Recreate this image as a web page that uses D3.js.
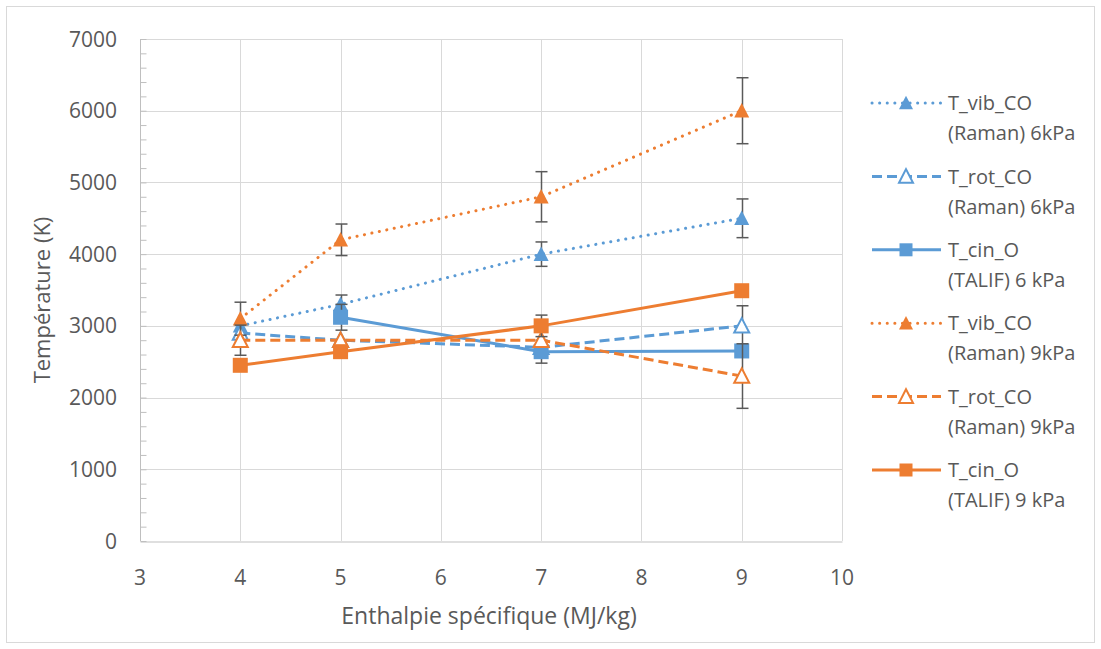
<!DOCTYPE html>
<html><head><meta charset="utf-8">
<script src="https://cdn.jsdelivr.net/npm/d3@7"></script>
<style>body{margin:0;background:#fff}svg{display:block}text{font-family:"Open Sans",sans-serif;fill:#595959}</style>
</head><body><svg id="c" width="1101" height="649"></svg>
<script>
const xValues = [4, 5, 7, 9];
const vib6 = [3000, 3300, 4000, 4500];
const rot6 = [2900, 2800, 2700, 3000];
const cin6 = [null, 3120, 2640, 2650];
const vib9 = [3100, 4200, 4800, 6000];
const rot9 = [2800, 2800, 2800, 2300];
const cin9 = [2450, 2640, 3000, 3490];
const errVib6 = [0, 130, 170, 270];
const errRot6 = [0, 0, 0, 280];
const errCin6 = [0, 180, 160, 0];
const errVib9 = [230, 220, 350, 460];
const errRot9 = [210, 0, 0, 450];
const errCin9 = [0, 0, 150, 0];
const xTicks = [3,4,5,6,7,8,9,10];
const yTicks = [0,1000,2000,3000,4000,5000,6000,7000];
const names = [["T_vib_CO","(Raman) 6kPa"],["T_rot_CO","(Raman) 6kPa"],["T_cin_O","(TALIF) 6 kPa"],["T_vib_CO","(Raman) 9kPa"],["T_rot_CO","(Raman) 9kPa"],["T_cin_O","(TALIF) 9 kPa"]];

const BLUE="#5B9BD5", ORANGE="#ED7D31";
const series = [
 {v:vib6,e:errVib6,c:BLUE,dash:"dot",m:"tri"},
 {v:rot6,e:errRot6,c:BLUE,dash:"dash",m:"tri-open"},
 {v:cin6,e:errCin6,c:BLUE,dash:"solid",m:"sq"},
 {v:vib9,e:errVib9,c:ORANGE,dash:"dot",m:"tri"},
 {v:rot9,e:errRot9,c:ORANGE,dash:"dash",m:"tri-open"},
 {v:cin9,e:errCin9,c:ORANGE,dash:"solid",m:"sq"}
];
series.forEach((s,i)=>s.name=names[i]);

const svg=d3.select("#c");
svg.append("rect").attr("x",6.5).attr("y",6.5).attr("width",1088).attr("height",636).attr("fill","#fff").attr("stroke","#D9D9D9");

const L=140,R=842,T=39,B=541;
const x=d3.scaleLinear().domain([3,10]).range([L,R]);
const y=d3.scaleLinear().domain([0,7000]).range([B,T]);

svg.append("g").selectAll("line").data(yTicks.filter(d=>d>0)).join("line")
 .attr("x1",L).attr("x2",R).attr("y1",d=>Math.round(y(d))+0.5).attr("y2",d=>Math.round(y(d))+0.5).attr("stroke","#D9D9D9");
svg.append("g").selectAll("line").data(xTicks.filter(d=>d>3)).join("line")
 .attr("y1",T).attr("y2",B).attr("x1",d=>Math.round(x(d))+0.5).attr("x2",d=>Math.round(x(d))+0.5).attr("stroke","#D9D9D9");

const ya=svg.append("g").attr("transform",`translate(${L+0.5},0)`).call(d3.axisLeft(y).tickValues(d3.range(0,7001,200)).tickSize(-6).tickFormat(""));
ya.select(".domain").attr("stroke","#BFBFBF").attr("d",`M0,${T}V${B}`);
ya.selectAll(".tick line").attr("stroke","#BFBFBF");
svg.append("g").selectAll("text").data(yTicks).join("text")
 .attr("x",117).attr("y",d=>y(d)).attr("dy","0.36em").attr("text-anchor","end").attr("font-size",21).text(d=>d);
const xa=svg.append("g").attr("transform",`translate(0,${B+0.5})`).call(d3.axisBottom(x).tickValues(xTicks).tickSize(0).tickFormat(""));
xa.select(".domain").attr("stroke","#BFBFBF");
svg.append("g").selectAll("text").data(xTicks).join("text")
 .attr("x",d=>x(d)).attr("y",577).attr("dy","0.36em").attr("text-anchor","middle").attr("font-size",21).text(d=>d);

svg.append("text").attr("x",489).attr("y",616).attr("dy","0.36em").attr("text-anchor","middle").attr("font-size",23).text("Enthalpie spécifique (MJ/kg)");
svg.append("text").attr("transform","translate(42,300) rotate(-90)").attr("dy","0.36em").attr("text-anchor","middle").attr("font-size",22).text("Température (K)");

function dashArr(d){return d==="dot"?"0.1,7.5":d==="dash"?"10,5":null;}
function marker(g,s,cx,cy,size){
 if(s.m==="sq"){
  g.append("rect").attr("x",cx-size/2).attr("y",cy-size/2).attr("width",size).attr("height",size).attr("fill",s.c);
 } else {
  const h=size*0.9, w=size;
  const p=`M${cx},${cy-h/2-1}L${cx+w/2},${cy+h/2}L${cx-w/2},${cy+h/2}Z`;
  if(s.m==="tri") g.append("path").attr("d",p).attr("fill",s.c);
  else g.append("path").attr("d",p).attr("fill","#fff").attr("stroke",s.c).attr("stroke-width",2);
 }
}
const line=d3.line().defined(d=>d!=null).x((d,i)=>x(xValues[i])).y(d=>y(d));
series.forEach(s=>{
 const g=svg.append("g");
 g.append("path").datum(s.v).attr("d",line).attr("fill","none").attr("stroke",s.c)
  .attr("stroke-width",3).attr("stroke-linecap",s.dash==="dot"?"round":"butt")
  .attr("stroke-dasharray",dashArr(s.dash));
 s.v.forEach((v,i)=>{
  const e=s.e[i]; if(!e||v==null) return;
  const cx=Math.round(x(xValues[i]))+0.5, y1=y(v+e), y2=y(v-e);
  g.append("line").attr("x1",cx).attr("x2",cx).attr("y1",y1).attr("y2",y2).attr("stroke","#595959").attr("stroke-width",1.5);
  [y1,y2].forEach(yy=>g.append("line").attr("x1",cx-6).attr("x2",cx+6).attr("y1",yy).attr("y2",yy).attr("stroke","#595959").attr("stroke-width",1.5));
 });
 s.v.forEach((v,i)=>{ if(v!=null) marker(g,s,x(xValues[i]),y(v),15); });
});

const lg=svg.append("g");
series.forEach((s,i)=>{
 const yy=103+i*73.4;
 lg.append("line").attr("x1",872).attr("x2",941).attr("y1",yy).attr("y2",yy).attr("stroke",s.c).attr("stroke-width",3)
  .attr("stroke-linecap",s.dash==="dot"?"round":"butt").attr("stroke-dasharray",dashArr(s.dash));
 marker(lg,s,906,yy,s.m==="sq"?13:14);
 lg.append("text").attr("x",948).attr("y",yy).attr("dy","0.36em").attr("font-size",20).text(s.name[0]);
 lg.append("text").attr("x",948).attr("y",yy+30).attr("dy","0.36em").attr("font-size",20).text(s.name[1]);
});
</script></body></html>
